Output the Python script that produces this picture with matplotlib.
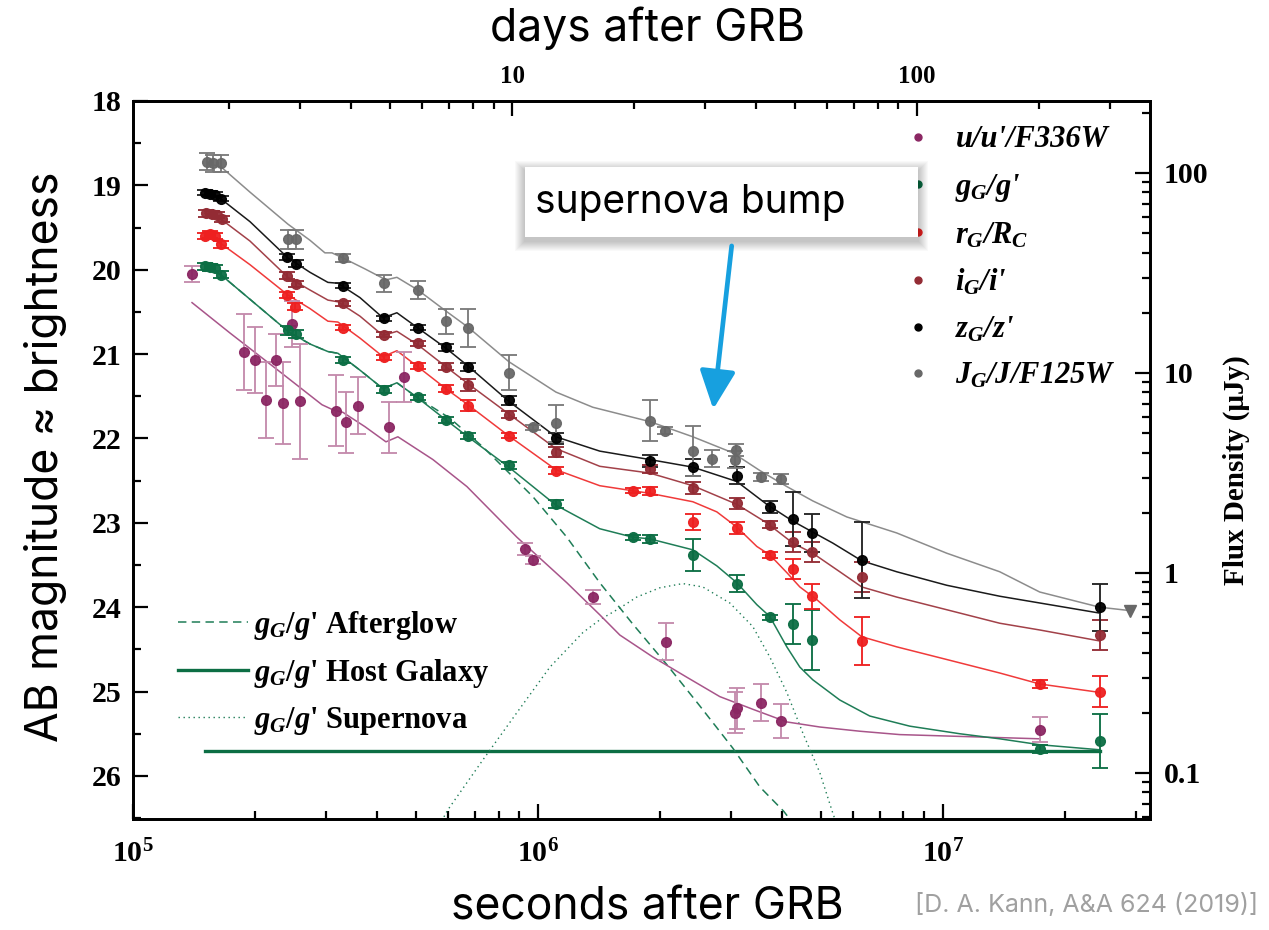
"""Multi-band light curve of a GRB afterglow with supernova bump and host galaxy.

Writes out.png.
"""

import math

import matplotlib.pyplot as plt
from matplotlib.lines import Line2D
from matplotlib.patches import Rectangle
from matplotlib.ticker import (FixedLocator, FuncFormatter, LogLocator, MultipleLocator,
                               NullFormatter)

plt.rcParams["mathtext.fontset"] = "custom"
plt.rcParams["mathtext.rm"] = "Liberation Serif:bold"
plt.rcParams["mathtext.it"] = "Liberation Serif:italic:bold"
plt.rcParams["mathtext.bf"] = "Liberation Serif:bold"

SERIF = "Liberation Serif"
SANS = ["Inter", "DejaVu Sans"]

# ---- photometry: time after GRB (s), AB magnitude, 1-sigma error ----
u_t = [1.396e5, 1.883e5, 2.001e5, 2.127e5, 2.250e5, 2.350e5, 2.465e5, 2.584e5, 3.167e5, 3.352e5,
       3.587e5, 4.293e5, 4.668e5, 9.288e5, 9.703e5, 1.369e6, 2.067e6, 3.065e6, 3.105e6, 3.548e6,
       3.981e6, 1.736e7]
u_mag = [20.05, 20.97, 21.07, 21.54, 21.07, 21.58, 20.64, 21.56, 21.67, 21.81,
         21.61, 21.87, 21.27, 23.31, 23.44, 23.88, 24.41, 25.25, 25.20, 25.13,
         25.35, 25.45]
u_err = [0.10, 0.45, 0.39, 0.45, 0.31, 0.49, 0.27, 0.68, 0.42, 0.36,
         0.34, 0.30, 0.30, 0.07, 0.05, 0.08, 0.22, 0.24, 0.24, 0.22,
         0.20, 0.15]

g_t = [1.505e5, 1.549e5, 1.594e5, 1.646e5, 2.418e5, 2.527e5, 3.295e5, 4.173e5, 5.047e5, 5.929e5,
       6.729e5, 8.479e5, 1.108e6, 1.719e6, 1.890e6, 2.418e6, 3.105e6, 3.740e6, 4.270e6, 4.757e6,
       1.736e7, 2.452e7]
g_mag = [19.96, 19.97, 19.98, 20.06, 20.72, 20.76, 21.07, 21.42, 21.51, 21.78,
         21.97, 22.32, 22.78, 23.17, 23.19, 23.38, 23.72, 24.12, 24.20, 24.39,
         25.68, 25.59]
g_err = [0.04, 0.04, 0.04, 0.04, 0.05, 0.05, 0.04, 0.04, 0.03, 0.04,
         0.04, 0.04, 0.05, 0.03, 0.05, 0.19, 0.10, 0.03, 0.24, 0.36,
         0.05, 0.32]

r_t = [1.505e5, 1.549e5, 1.594e5, 1.646e5, 2.396e5, 2.512e5, 3.295e5, 4.173e5, 5.047e5, 5.929e5,
       6.729e5, 8.479e5, 1.108e6, 1.719e6, 1.890e6, 2.418e6, 3.105e6, 3.740e6, 4.270e6, 4.757e6,
       6.301e6, 1.736e7, 2.452e7]
r_mag = [19.60, 19.58, 19.60, 19.70, 20.30, 20.44, 20.69, 21.04, 21.14, 21.41,
         21.61, 21.97, 22.38, 22.62, 22.62, 22.99, 23.06, 23.38, 23.55, 23.87,
         24.40, 24.91, 25.00]
r_err = [0.04, 0.04, 0.04, 0.04, 0.04, 0.04, 0.03, 0.03, 0.04, 0.04,
         0.07, 0.03, 0.04, 0.03, 0.05, 0.10, 0.07, 0.04, 0.12, 0.15,
         0.28, 0.05, 0.18]

i_t = [1.514e5, 1.564e5, 1.609e5, 1.656e5, 2.396e5, 2.527e5, 3.295e5, 4.173e5, 5.047e5, 5.929e5,
       6.729e5, 8.479e5, 1.108e6, 1.890e6, 2.418e6, 3.105e6, 3.740e6, 4.270e6, 4.757e6, 6.301e6,
       2.452e7]
i_mag = [19.33, 19.34, 19.35, 19.40, 20.07, 20.17, 20.40, 20.77, 20.87, 21.15,
         21.37, 21.72, 22.16, 22.36, 22.59, 22.77, 23.02, 23.23, 23.35, 23.64,
         24.33]
i_err = [0.04, 0.04, 0.04, 0.04, 0.04, 0.04, 0.03, 0.03, 0.03, 0.04,
         0.07, 0.04, 0.06, 0.05, 0.07, 0.07, 0.04, 0.12, 0.12, 0.18,
         0.18]

z_t = [1.505e5, 1.549e5, 1.594e5, 1.646e5, 2.396e5, 2.527e5, 3.295e5, 4.173e5, 5.047e5, 5.929e5,
       6.729e5, 8.479e5, 1.108e6, 1.890e6, 2.418e6, 3.105e6, 3.740e6, 4.270e6, 4.757e6, 6.301e6,
       2.452e7]
z_mag = [19.09, 19.10, 19.11, 19.16, 19.85, 19.93, 20.19, 20.575, 20.69, 20.92,
         21.15, 21.55, 22.00, 22.27, 22.34, 22.44, 22.81, 22.96, 23.12, 23.44,
         24.00]
z_err = [0.03, 0.03, 0.03, 0.03, 0.04, 0.04, 0.03, 0.03, 0.03, 0.04,
         0.05, 0.05, 0.07, 0.07, 0.10, 0.10, 0.07, 0.32, 0.23, 0.45,
         0.28]

J_t = [1.526e5, 1.579e5, 1.646e5, 2.418e5, 2.522e5, 3.295e5, 4.173e5, 5.047e5, 5.929e5, 6.729e5,
       8.479e5, 9.703e5, 1.108e6, 1.890e6, 2.059e6, 2.418e6, 2.685e6, 3.065e6, 3.094e6, 3.548e6,
       3.997e6]
J_mag = [18.72, 18.74, 18.74, 19.64, 19.64, 19.86, 20.16, 20.24, 20.61, 20.69,
         21.22, 21.87, 21.82, 21.79, 21.91, 22.15, 22.24, 22.25, 22.14, 22.46,
         22.48]
J_err = [0.10, 0.10, 0.10, 0.11, 0.11, 0.05, 0.10, 0.11, 0.15, 0.23,
         0.21, 0.03, 0.22, 0.24, 0.04, 0.30, 0.10, 0.10, 0.07, 0.05,
         0.06]
J_limit_t = [2.895e7]
J_limit_mag = [24.04]

# ---- model curves ----
u_mod_t = [1.399e5, 1.736e5, 2.307e5, 2.929e5, 3.117e5, 3.299e5, 3.740e5, 4.215e5, 4.511e5, 5.505e5,
           6.679e5, 8.875e5, 1.179e6, 1.422e6, 1.594e6, 1.923e6, 2.333e6, 2.815e6, 3.396e6, 4.120e6,
           4.970e6, 6.238e6, 7.831e6, 1.736e7]
u_mod_mag = [20.39, 20.75, 21.21, 21.60, 21.66, 21.69, 21.86, 22.04, 21.98, 22.25,
             22.57, 23.17, 23.71, 24.09, 24.33, 24.59, 24.83, 25.06, 25.21, 25.36,
             25.42, 25.47, 25.51, 25.56]

g_mod_t = [1.505e5, 1.649e5, 1.945e5, 2.414e5, 2.735e5, 3.030e5, 3.207e5, 3.635e5, 4.144e5, 4.486e5,
           5.054e5, 5.929e5, 6.718e5, 8.479e5, 1.108e6, 1.422e6, 1.716e6, 1.890e6, 2.414e6, 2.767e6,
           3.100e6, 3.474e6, 3.740e6, 4.120e6, 4.437e6, 4.775e6, 5.569e6, 6.604e6, 8.290e6, 1.102e7,
           1.383e7, 1.736e7, 2.442e7]
g_mod_mag = [19.96, 20.06, 20.35, 20.73, 20.88, 20.97, 20.99, 21.19, 21.41, 21.34,
             21.52, 21.78, 21.98, 22.34, 22.79, 23.07, 23.17, 23.19, 23.32, 23.51,
             23.71, 23.97, 24.11, 24.47, 24.71, 24.86, 25.10, 25.29, 25.41, 25.50,
             25.56, 25.63, 25.69]

r_mod_t = [1.505e5, 1.649e5, 1.945e5, 2.414e5, 2.735e5, 3.030e5, 3.207e5, 3.635e5, 4.144e5, 4.486e5,
           5.054e5, 5.929e5, 6.718e5, 8.479e5, 1.108e6, 1.422e6, 1.716e6, 1.890e6, 2.414e6, 2.767e6,
           3.100e6, 3.474e6, 3.740e6, 4.120e6, 4.437e6, 4.885e6, 5.569e6, 6.310e6, 7.698e6, 1.023e7,
           1.383e7, 1.736e7, 2.442e7]
r_mod_mag = [19.59, 19.69, 19.94, 20.30, 20.46, 20.61, 20.62, 20.81, 21.03, 20.96,
             21.15, 21.41, 21.60, 21.97, 22.37, 22.56, 22.62, 22.65, 22.75, 22.87,
             23.05, 23.28, 23.38, 23.59, 23.76, 23.91, 24.15, 24.35, 24.47, 24.62,
             24.78, 24.91, 25.01]

i_mod_t = [1.505e5, 1.649e5, 1.945e5, 2.414e5, 2.735e5, 3.030e5, 3.207e5, 3.635e5, 4.144e5, 4.486e5,
           5.054e5, 5.929e5, 6.718e5, 8.479e5, 1.108e6, 1.422e6, 1.890e6, 2.414e6, 3.100e6, 3.675e6,
           4.263e6, 4.775e6, 5.569e6, 6.310e6, 7.698e6, 1.023e7, 1.383e7, 1.736e7, 2.442e7]
i_mod_mag = [19.33, 19.40, 19.66, 20.09, 20.24, 20.36, 20.38, 20.55, 20.78, 20.73,
             20.89, 21.15, 21.35, 21.71, 22.12, 22.33, 22.41, 22.56, 22.78, 23.00,
             23.24, 23.36, 23.58, 23.76, 23.88, 24.03, 24.19, 24.27, 24.40]

z_mod_t = [1.505e5, 1.649e5, 1.945e5, 2.414e5, 2.735e5, 3.030e5, 3.207e5, 3.635e5, 4.144e5, 4.486e5,
           5.054e5, 5.929e5, 6.718e5, 8.479e5, 1.108e6, 1.422e6, 1.890e6, 2.414e6, 3.100e6, 3.675e6,
           4.263e6, 4.775e6, 5.351e6, 6.310e6, 7.698e6, 1.023e7, 1.383e7, 1.736e7, 2.442e7]
z_mod_mag = [19.09, 19.16, 19.43, 19.86, 20.03, 20.15, 20.16, 20.33, 20.57, 20.51,
             20.69, 20.93, 21.14, 21.56, 21.98, 22.15, 22.25, 22.34, 22.51, 22.78,
             22.98, 23.11, 23.24, 23.45, 23.58, 23.74, 23.87, 23.95, 24.07]

J_mod_t = [1.523e5, 1.649e5, 1.945e5, 2.414e5, 2.735e5, 2.979e5, 3.100e5, 3.299e5, 3.740e5, 4.215e5,
           4.486e5, 5.054e5, 5.929e5, 6.718e5, 8.479e5, 1.108e6, 1.367e6, 1.890e6, 2.414e6, 3.030e6,
           3.534e6, 4.120e6, 4.775e6, 5.794e6, 7.698e6, 1.023e7, 1.383e7, 1.736e7, 2.442e7, 2.895e7]
J_mod_mag = [18.74, 18.78, 19.08, 19.46, 19.65, 19.80, 19.80, 19.86, 19.99, 20.12,
             20.09, 20.24, 20.49, 20.68, 21.09, 21.45, 21.63, 21.80, 21.98, 22.17,
             22.38, 22.57, 22.74, 22.93, 23.12, 23.36, 23.58, 23.82, 24.00, 24.04]

# g-band model components
ag_t = [1.505e5, 1.649e5, 1.945e5, 2.414e5, 2.735e5, 3.030e5, 3.207e5, 3.635e5, 4.144e5, 4.486e5,
        5.054e5, 6.065e5, 7.315e5, 9.721e5, 1.179e6, 1.422e6, 1.716e6, 2.082e6, 2.512e6, 3.030e6,
        3.534e6, 4.050e6, 4.312e6]
ag_mag = [19.96, 20.06, 20.35, 20.73, 20.88, 20.97, 20.99, 21.19, 21.41, 21.34,
          21.52, 21.76, 22.10, 22.69, 23.17, 23.71, 24.20, 24.68, 25.17, 25.67,
          26.13, 26.42, 26.59]

sn_t = [5.800e5, 5.896e5, 5.997e5, 7.315e5, 8.875e5, 1.071e6, 1.292e6, 1.422e6, 1.594e6, 1.755e6,
        2.001e6, 2.280e6, 2.555e6, 2.979e6, 3.396e6, 3.740e6, 4.120e6, 4.512e6, 4.970e6, 5.351e6,
        5.443e6]
sn_mag = [26.54, 26.46, 26.40, 25.81, 25.25, 24.71, 24.30, 24.15, 24.01, 23.88,
          23.77, 23.72, 23.76, 23.95, 24.23, 24.59, 25.01, 25.49, 25.96, 26.44,
          26.54]

host_t = [1.505e5, 2.442e7]
host_mag = [25.70, 25.70]

band_labels = ["u/u'/F336W", r"$g_G$/g'", r"$r_G$/$R_C$", r"$i_G$/i'", r"$z_G$/z'", r"$J_G$/J/F125W"]
comp_labels = [r"$g_G/g$' Afterglow", r"$g_G/g$' Host Galaxy", r"$g_G/g$' Supernova"]

# ---- colours ----
C_U, C_U_LINE, C_U_ERR = "#8b2763", "#a8558a", "#c48aac"
C_G, C_G_LINE = "#0c6e44", "#1f7d57"
C_R, C_R_LINE = "#ee2020", "#f03a3a"
C_I, C_I_LINE = "#932b34", "#a24149"
C_Z, C_Z_LINE = "#000000", "#1a1a1a"
C_J, C_J_LINE = "#686868", "#8c8c8c"

# right-axis flux scale (µJy), as drawn on the original figure
FLUX_TOP, FLUX_BOTTOM = 229.0, 0.0589


def style_ticks(axis_obj, labelsize, pad):
    axis_obj.tick_params(which="both", direction="in", width=1.6, labelsize=labelsize, pad=pad)
    axis_obj.tick_params(which="major", length=11)
    axis_obj.tick_params(which="minor", length=6)


def bold_serif(labels):
    for lab in labels:
        lab.set_fontfamily(SERIF)
        lab.set_fontweight("bold")


def main():
    fig = plt.figure(figsize=(12.69, 9.30), dpi=100)
    ax = fig.add_axes([0.1048, 0.1194, 0.8014, 0.7720])

    # model components for g
    ax.plot(host_t, host_mag, color=C_G, lw=2.4, zorder=2)
    ax.plot(ag_t, ag_mag, color=C_G_LINE, lw=1.1, ls=(0, (5.5, 3.5)), zorder=2)
    ax.plot(sn_t, sn_mag, color=C_G_LINE, lw=1.0, ls=(0, (1, 2.6)), zorder=2)

    bands = [
        (u_t, u_mag, u_err, u_mod_t, u_mod_mag, C_U, C_U_LINE, C_U_ERR),
        (g_t, g_mag, g_err, g_mod_t, g_mod_mag, C_G, C_G_LINE, C_G),
        (r_t, r_mag, r_err, r_mod_t, r_mod_mag, C_R, C_R_LINE, C_R),
        (i_t, i_mag, i_err, i_mod_t, i_mod_mag, C_I, C_I_LINE, C_I),
        (z_t, z_mag, z_err, z_mod_t, z_mod_mag, C_Z, C_Z_LINE, "#222222"),
        (J_t, J_mag, J_err, J_mod_t, J_mod_mag, C_J, C_J_LINE, "#7a7a7a"),
    ]
    for t, m, e, mt, mm, c, cl, ce in bands:
        ax.plot(mt, mm, color=cl, lw=1.1, zorder=3)
    for t, m, e, mt, mm, c, cl, ce in bands:
        ax.errorbar(t, m, yerr=e, fmt="o", color=c, ms=7, mec=c, ecolor=ce,
                    elinewidth=1.4, capsize=5.5, capthick=1.4, zorder=4, alpha=0.95)
    ax.plot(J_limit_t, J_limit_mag, "v", color=C_J, ms=8, zorder=4)

    ax.set_xscale("log")
    ax.set_xlim(1e5, 3.25e7)
    ax.set_ylim(26.51, 18.0)

    for s in ax.spines.values():
        s.set_linewidth(2.0)
    ax.yaxis.set_major_locator(MultipleLocator(1))
    ax.yaxis.set_minor_locator(MultipleLocator(0.5))
    ax.xaxis.set_major_locator(FixedLocator([1e5, 1e6, 1e7]))
    ax.xaxis.set_minor_locator(LogLocator(base=10, subs=range(2, 10)))
    ax.xaxis.set_minor_formatter(NullFormatter())
    ax.xaxis.set_major_formatter(FuncFormatter(lambda v, p: r"$10^{%d}$" % round(math.log10(v))))
    ax.tick_params(top=False, right=False)
    style_ticks(ax, 21.5, 8)
    ax.tick_params(axis="x", pad=15)
    bold_serif(ax.get_yticklabels())

    # top axis: days after GRB
    top = ax.secondary_xaxis("top", functions=(lambda s: s / 86400.0, lambda d: d * 86400.0))
    top.xaxis.set_major_locator(FixedLocator([10, 100]))
    top.xaxis.set_minor_locator(FixedLocator([2, 3, 4, 5, 6, 7, 8, 9, 20, 30, 40, 50, 60, 70,
                                              80, 90, 200, 300]))
    top.xaxis.set_major_formatter(FuncFormatter(lambda v, p: f"{v:g}"))
    top.xaxis.set_minor_formatter(NullFormatter())
    style_ticks(top, 18, 9)
    bold_serif(top.get_xticklabels())

    # right axis: flux density
    axr = ax.twinx()
    axr.set_yscale("log")
    axr.set_ylim(FLUX_BOTTOM, FLUX_TOP)
    axr.yaxis.set_major_locator(FixedLocator([0.1, 1, 10, 100]))
    axr.yaxis.set_minor_locator(LogLocator(base=10, subs=range(2, 10)))
    axr.yaxis.set_major_formatter(FuncFormatter(lambda v, p: f"{v:g}"))
    axr.yaxis.set_minor_formatter(NullFormatter())
    style_ticks(axr, 21.5, 10)
    bold_serif(axr.get_yticklabels())
    for s in axr.spines.values():
        s.set_linewidth(2.0)

    # band legend (top right)
    band_handles = [Line2D([], [], ls="none", marker="o", ms=5, color=c)
                    for c in (C_U, C_G, C_R, C_I, C_Z, C_J)]
    leg1 = ax.legend(band_handles, band_labels, loc="upper left", bbox_to_anchor=(0.757, 0.966),
                     frameon=False, handlelength=1.0, handletextpad=0.72,
                     labelspacing=0.56, borderpad=0, borderaxespad=0,
                     prop={"family": SERIF, "style": "italic", "weight": "bold", "size": 22})
    ax.add_artist(leg1)

    # model component legend (bottom left)
    comp_handles = [Line2D([], [], color=C_G_LINE, lw=1.1, ls=(0, (5.5, 3.5))),
                    Line2D([], [], color=C_G, lw=2.4),
                    Line2D([], [], color=C_G_LINE, lw=1.0, ls=(0, (1, 2.6)))]
    ax.legend(comp_handles, comp_labels, loc="upper left", bbox_to_anchor=(0.044, 0.293),
              frameon=False, handlelength=2.29, handletextpad=0.2, labelspacing=0.5,
              borderpad=0, borderaxespad=0,
              prop={"family": SERIF, "weight": "bold", "size": 22})

    # "supernova bump" callout with a soft shadow
    px, py = 1 / 1017.0, 1 / 718.0
    bx, by, bw, bh = 0.3854, 0.8106, 0.3865, 0.0975
    for k in range(10, 0, -1):
        ax.add_patch(Rectangle((bx - k * px, by - (k + 4) * py), bw + 2 * k * px, bh + 2 * k * py,
                               transform=ax.transAxes, facecolor="black", edgecolor="none",
                               alpha=0.022, zorder=9))
    ax.add_patch(Rectangle((bx, by), bw, bh, transform=ax.transAxes,
                           facecolor="white", edgecolor="none", zorder=10))
    ax.text(0.3953, 0.858, "supernova bump", transform=ax.transAxes, ha="left", va="center",
            fontsize=28, family=SANS, zorder=11)
    ax.annotate("", xy=(0.5703, 0.567), xytext=(0.589, 0.802), xycoords="axes fraction",
                arrowprops=dict(arrowstyle="-|>,head_length=0.9,head_width=0.42",
                                color="#17a0df", lw=3.4, mutation_scale=26),
                zorder=11)

    # outer labels
    fig.text(0.5099, 0.9699, "days after GRB", ha="center", va="center", fontsize=32, family=SANS)
    fig.text(0.5099, 0.0237, "seconds after GRB", ha="center", va="center", fontsize=32, family=SANS)
    fig.text(0.0355, 0.5086, "AB magnitude ≈ brightness", ha="center", va="center",
             rotation=90, fontsize=32, family=SANS)
    fig.text(0.974, 0.4946, "Flux Density (μJy)", ha="center", va="center", rotation=90,
             fontsize=21, family=SERIF, weight="bold")
    fig.text(0.721, 0.027, "[D. A. Kann, A&A 624 (2019)]", ha="left", va="center",
             fontsize=18, family=SANS, color="#a0a0a0")

    fig.savefig("out.png", dpi=100)


if __name__ == "__main__":
    main()
